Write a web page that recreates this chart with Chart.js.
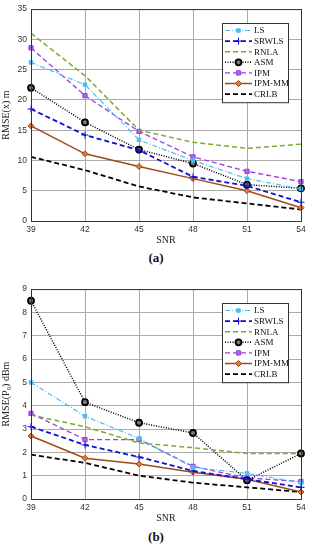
<!DOCTYPE html>
<html>
<head>
<meta charset="utf-8">
<script src="https://cdn.jsdelivr.net/npm/chart.js@4.4.1/dist/chart.umd.min.js"></script>
<style>
  body { margin: 0; background: #fff; width: 312px; height: 550px; overflow: hidden; }
  .box { position: absolute; left: 0; width: 312px; }
  .cap { position: absolute; left: 0; width: 312px; text-align: center;
         font: bold 13px "Liberation Serif", "DejaVu Serif", serif; color: #111; }
</style>
</head>
<body>
<div class="box" style="top:0; height:250px;"><canvas id="chartA" width="312" height="250"></canvas></div>
<div class="cap" style="top:250px;">(a)</div>
<div class="box" style="top:280px; height:248px;"><canvas id="chartB" width="312" height="248"></canvas></div>
<div class="cap" style="top:529px;">(b)</div>
<script>
// ось X
const snr = ["39", "42", "45", "48", "51", "54"];
const seriesNames = ["LS", "SRWLS", "RNLA", "ASM", "IPM", "IPM-MM", "CRLB"];

// (a) RMSE(x), m
const lsA    = [26.2, 22.5, 13.4, 10.0, 7.0, 5.3];
const srwlsA = [18.5, 14.2, 11.7, 7.3, 5.8, 3.1];
const rnlaA  = [31.0, 24.0, 15.0, 13.0, 12.0, 12.7];
const asmA   = [22.0, 16.3, 11.8, 9.5, 6.0, 5.4];
const ipmA   = [28.6, 20.7, 14.8, 10.6, 8.2, 6.5];
const ipmmmA = [15.7, 11.1, 9.0, 7.0, 5.0, 2.2];
const crlbA  = [10.6, 8.4, 5.7, 3.9, 2.9, 1.9];
const ticksA = [0, 5, 10, 15, 20, 25, 30, 35];

// (b) RMSE(P0), dBm
const lsB    = [5.0, 3.55, 2.6, 1.35, 1.1, 0.7];
const srwlsB = [3.1, 2.32, 1.8, 1.2, 0.85, 0.5];
const rnlaB  = [3.6, 3.1, 2.4, 2.2, 1.95, 1.95];
const asmB   = [8.5, 4.15, 3.27, 2.83, 0.8, 1.95];
const ipmB   = [3.67, 2.55, 2.55, 1.4, 0.9, 0.75];
const ipmmmB = [2.7, 1.75, 1.5, 1.15, 0.85, 0.3];
const crlbB  = [1.9, 1.55, 1.0, 0.7, 0.5, 0.3];
const ticksB = [0, 1, 2, 3, 4, 5, 6, 7, 8, 9];

// стили линий (как в MATLAB)
const styles = [
    { color: "#4dbeee", dash: [5, 2, 1, 2], width: 1.2, point: "rect",    radius: 2.5, fill: "#4dbeee" },
    { color: "#1010d0", dash: [5, 3],       width: 1.8, point: "cross",   radius: 3.5, fill: "#1010d0" },
    { color: "#77ac30", dash: [5, 3],       width: 1.5, point: false,     radius: 0,   fill: "#77ac30" },
    { color: "#000000", dash: [1, 1.5],     width: 1.5, point: "circle",  radius: 3,   fill: "#777777" },
    { color: "#9b3fe0", dash: [5, 3],       width: 1.3, point: "rect",    radius: 3,   fill: "#b060f0" },
    { color: "#a04a1a", dash: [],           width: 1.5, point: "rectRot", radius: 3,   fill: "#e07a3a" },
    { color: "#000000", dash: [5, 3],       width: 1.8, point: false,     radius: 0,   fill: "#000000" }
];

function makeDatasets(arrays) {
    return arrays.map((data, i) => {
        const s = styles[i];
        return {
            label: seriesNames[i],
            data: data,
            borderColor: s.color,
            borderWidth: s.width,
            borderDash: s.dash,
            pointStyle: s.point,
            pointRadius: s.radius,
            pointBackgroundColor: s.fill,
            pointBorderColor: s.color,
            pointBorderWidth: i === 3 ? 1.8 : 1,
            tension: 0,
            fill: false
        };
    });
}

// рамка вокруг области графика
const frame = {
    id: "frame",
    afterDraw(chart) {
        const { ctx, chartArea: a } = chart;
        ctx.save();
        ctx.strokeStyle = "#333";
        ctx.lineWidth = 1;
        ctx.strokeRect(a.left + 0.5, a.top + 0.5, a.right - a.left, a.bottom - a.top);
        ctx.restore();
    }
};

// легенда внутри графика
const boxLegend = {
    id: "boxLegend",
    afterDraw(chart, args, opts) {
        const ctx = chart.ctx;
        const x = opts.x, y = opts.y, w = 66, rowH = 10.6;
        const h = rowH * chart.data.datasets.length + 5;
        ctx.save();
        ctx.fillStyle = "#fff";
        ctx.fillRect(x, y, w, h);
        ctx.strokeStyle = "#333";
        ctx.lineWidth = 1;
        ctx.strokeRect(x + 0.5, y + 0.5, w, h);
        ctx.font = "9px 'Liberation Serif', 'DejaVu Serif', serif";
        ctx.textBaseline = "middle";
        chart.data.datasets.forEach((ds, i) => {
            const cy = y + 7.5 + i * rowH;
            ctx.strokeStyle = ds.borderColor;
            ctx.lineWidth = ds.borderWidth;
            ctx.setLineDash(ds.borderDash);
            ctx.beginPath();
            ctx.moveTo(x + 3, cy);
            ctx.lineTo(x + 30, cy);
            ctx.stroke();
            ctx.setLineDash([]);
            if (ds.pointStyle) {
                ctx.fillStyle = ds.pointBackgroundColor;
                ctx.strokeStyle = ds.pointBorderColor;
                ctx.lineWidth = ds.pointBorderWidth;
                Chart.helpers.drawPoint(ctx, {
                    pointStyle: ds.pointStyle, radius: ds.pointRadius, rotation: 0,
                    borderWidth: ds.pointBorderWidth
                }, x + 16.5, cy);
            }
            ctx.fillStyle = "#111";
            ctx.fillText(ds.label, x + 32, cy + 0.5);
        });
        ctx.restore();
    }
};

function makeChart(id, arrays, yTitle, yMax, yTicks, legendY, topPad) {
    const tickFont = { family: "'Liberation Sans', Arial, sans-serif", size: 8.5 };
    return new Chart(document.getElementById(id), {
        type: "line",
        data: { labels: snr, datasets: makeDatasets(arrays) },
        plugins: [frame, boxLegend],
        options: {
            responsive: false,
            animation: false,
            layout: { padding: { top: topPad, right: 11, left: 0, bottom: 0 } },
            plugins: {
                legend: { display: false },
                tooltip: { enabled: false },
                boxLegend: { x: 222, y: legendY }
            },
            scales: {
                x: {
                    offset: false,
                    grid: { color: "#aaa", borderDash: [1, 2], drawTicks: false },
                    border: { display: false },
                    ticks: { color: "#333", font: tickFont, padding: 4, maxRotation: 0 },
                    title: {
                        display: true, text: "SNR", color: "#222",
                        font: { family: "'Liberation Serif', 'DejaVu Serif', serif", size: 10 },
                        padding: { top: 0, bottom: 4 }
                    },
                    afterFit: s => { s.height = 29; }
                },
                y: {
                    min: 0, max: yMax,
                    afterBuildTicks: s => { s.ticks = yTicks.map(v => ({ value: v })); },
                    grid: { color: "#aaa", borderDash: [1, 2], drawTicks: false },
                    border: { display: false },
                    ticks: { color: "#333", font: tickFont, padding: 4 },
                    title: {
                        display: true, text: yTitle, color: "#222",
                        font: { family: "'Liberation Serif', 'DejaVu Serif', serif", size: 10 },
                        padding: { top: 0, bottom: 2 }
                    },
                    afterFit: s => { s.width = 31; }
                }
            }
        }
    });
}

makeChart("chartA", [lsA, srwlsA, rnlaA, asmA, ipmA, ipmmmA, crlbA],
    "RMSE(x) m", 35, ticksA, 23, 6);
makeChart("chartB", [lsB, srwlsB, rnlaB, asmB, ipmB, ipmmmB, crlbB],
    "RMSE(P\u2080) dBm", 9, ticksB, 23, 6);
</script>
</body>
</html>
